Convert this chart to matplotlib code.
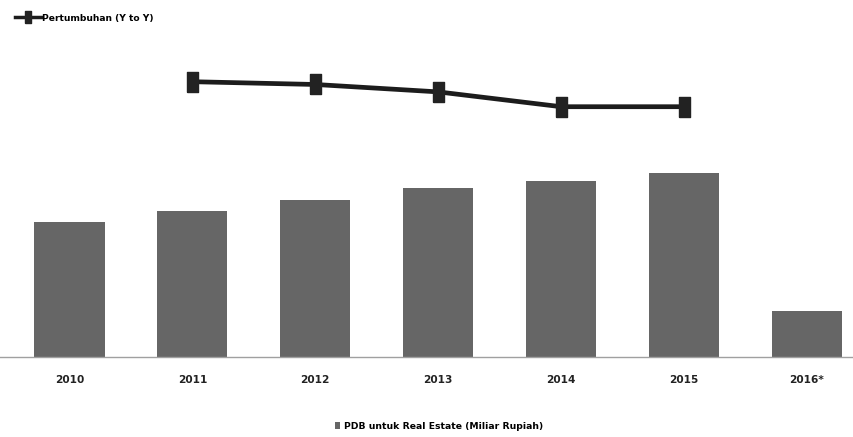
import matplotlib
matplotlib.use("Agg")
import matplotlib.pyplot as plt
from matplotlib.lines import Line2D
from matplotlib.patches import Patch

years = ["2010", "2011", "2012", "2013", "2014", "2015", "2016*"]
pdb_real_estate = [229500, 248000, 267000, 287000, 299000, 313000, 78000]
growth_years = ["2011", "2012", "2013", "2014", "2015"]
growth = [7.7, 7.4, 6.6, 5.0, 5.0]

plt.rcParams['font.family'] = ['DejaVu Sans Condensed', 'Liberation Sans Narrow', 'DejaVu Sans']

fig = plt.figure(figsize=(8.54, 4.37), dpi=100)
ax = fig.add_axes([0.0, 0.183, 1.0, 0.7254])

x = list(range(len(years)))
bar_color = "#666666"
ax.bar(x, pdb_real_estate, width=0.57, color=bar_color, zorder=2)
ax.set_xlim(-0.5655, 6.383)
ax.set_ylim(0, 538900)
ax.set_xticks(x)
ax.set_xticklabels(years, fontsize=7.6, fontweight='bold', color="#222222")
ax.tick_params(axis='x', length=0, pad=13)
ax.set_yticks([])
for s in ["top", "right", "left"]:
    ax.spines[s].set_visible(False)
ax.spines["bottom"].set_color("#a0a0a0")
ax.spines["bottom"].set_linewidth(1.0)

ax2 = ax.twinx()
ax2.set_ylim(-22.03, 12.2)
ax2.set_yticks([])
for s in ax2.spines.values():
    s.set_visible(False)
gx = [years.index(y) for y in growth_years]
rect = [(-0.55, -1), (0.55, -1), (0.55, 1), (-0.55, 1), (-0.55, -1)]
ax2.plot(gx, growth, color="#1c1c1c", lw=3.4, marker=rect, ms=14.4,
         mfc="#222222", mec="#222222", zorder=3)

h1 = Line2D([0], [0], color="#1c1c1c", lw=2.5, marker=rect, ms=8, mfc="#222222", mec="#222222")
fig.legend([h1], ["Pertumbuhan (Y to Y)"], loc="center left", bbox_to_anchor=(0.0176, 0.9588),
           frameon=False, handlelength=2.8, handletextpad=0.15, borderpad=0, borderaxespad=0,
           prop={'weight': 'bold', 'size': 6.6})
h2 = Patch(facecolor=bar_color)
fig.legend([h2], ["PDB untuk Real Estate (Miliar Rupiah)"], loc="center left", bbox_to_anchor=(0.392, 0.025),
           frameon=False, handlelength=0.6, handleheight=0.8, handletextpad=0.4, borderpad=0, borderaxespad=0,
           prop={'weight': 'bold', 'size': 6.7})

fig.savefig("out.png", dpi=100)
